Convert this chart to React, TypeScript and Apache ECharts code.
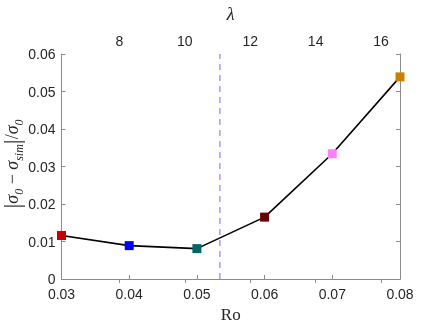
import React, { useEffect, useRef } from "react";
import * as echarts from "echarts";

const roValues = [0.03, 0.04, 0.05, 0.06, 0.07, 0.08];
const errValues = [0.0116, 0.0089, 0.0081, 0.0165, 0.0334, 0.0539];
const pointColors = ["#cc0000", "#0000ff", "#006666", "#660000", "#ff80ff", "#cc8000"];
const lambdaTicks = [8, 10, 12, 14, 16];
const lambdaRange = [6.23, 16.58];
const dashedRo = 0.0534;
const yRange = [0, 0.06];

export default function App() {
  const ref = useRef<HTMLDivElement>(null);
  useEffect(() => {
    const chart = echarts.init(ref.current!, null, { renderer: "svg" });
    const axisGray = "#8c8c8c";
    const labelColor = "#262626";
    const sans = "Liberation Sans";
    const serif = "Liberation Serif";
    chart.setOption({
      animation: false,
      grid: { left: 61.5, right: 37, top: 44, bottom: 43, containLabel: false },
      xAxis: [
        {
          type: "value",
          position: "bottom",
          min: 0.03,
          max: 0.08,
          interval: 0.01,
          name: "Ro",
          nameLocation: "middle",
          nameGap: 27,
          nameTextStyle: { fontFamily: serif, fontSize: 17, color: labelColor },
          axisLine: { show: true, lineStyle: { color: axisGray } },
          axisTick: { show: true, inside: true, length: 4, lineStyle: { color: axisGray } },
          axisLabel: { margin: 8, fontFamily: sans, fontSize: 14, lineHeight: 14, color: labelColor, formatter: (v: number) => v.toFixed(2) },
          splitLine: { show: false },
        },
        {
          type: "value",
          position: "top",
          min: lambdaRange[0],
          max: lambdaRange[1],
          name: "λ",
          nameLocation: "middle",
          nameGap: 31,
          nameTextStyle: { fontFamily: serif, fontStyle: "italic", fontSize: 18, color: labelColor },
          axisLine: { show: true, lineStyle: { color: axisGray } },
          axisTick: { show: true, inside: true, length: 4, customValues: lambdaTicks, lineStyle: { color: axisGray } },
          axisLabel: { margin: 6, fontFamily: sans, fontSize: 14, color: labelColor, customValues: lambdaTicks, formatter: (v: number) => String(v) },
          splitLine: { show: false },
        },
      ],
      yAxis: [
        {
          type: "value",
          position: "left",
          min: yRange[0],
          max: yRange[1],
          interval: 0.01,
          axisLine: { show: true, lineStyle: { color: axisGray } },
          axisTick: { show: true, inside: true, length: 4, lineStyle: { color: axisGray } },
          axisLabel: { margin: 6, fontFamily: sans, fontSize: 14, lineHeight: 14, color: labelColor, formatter: (v: number) => (v === 0 ? "0" : v.toFixed(2)) },
          splitLine: { show: false },
        },
        {
          type: "value",
          position: "right",
          min: yRange[0],
          max: yRange[1],
          interval: 0.01,
          axisLine: { show: true, lineStyle: { color: axisGray } },
          axisTick: { show: true, inside: true, length: 4, lineStyle: { color: axisGray } },
          axisLabel: { show: false },
          splitLine: { show: false },
        },
      ],
      graphic: [
        {
          type: "text",
          x: 12,
          y: 164,
          rotation: Math.PI / 2,
          style: {
            text: "{b||}{i|σ}{s|0}{n| − }{i|σ}{s|sim}{b||}{n|/}{i|σ}{s|0}",
            align: "center",
            verticalAlign: "middle",
            fill: labelColor,
            rich: {
              b: { fontFamily: serif, fontSize: 24, lineHeight: 26, verticalAlign: "middle", fill: labelColor },
              i: { fontFamily: serif, fontStyle: "italic", fontSize: 18, lineHeight: 26, verticalAlign: "middle", fill: labelColor },
              n: { fontFamily: serif, fontSize: 18, lineHeight: 26, verticalAlign: "middle", fill: labelColor },
              s: { fontFamily: serif, fontStyle: "italic", fontSize: 12, lineHeight: 26, verticalAlign: "bottom", fill: labelColor },
            },
          },
        },
      ],
      series: [
        {
          type: "line",
          xAxisIndex: 0,
          yAxisIndex: 0,
          data: [
            [dashedRo, yRange[0]],
            [dashedRo, yRange[1]],
          ],
          symbol: "none",
          lineStyle: { color: "#6a6aff", type: [6, 5], width: 1 },
          silent: true,
          z: 2,
        },
        {
          type: "line",
          xAxisIndex: 0,
          yAxisIndex: 0,
          data: roValues.map((r, i) => ({
            value: [r, errValues[i]],
            itemStyle: { color: pointColors[i], borderWidth: 0 },
          })),
          symbol: "rect",
          symbolSize: 9,
          lineStyle: { color: "#000000", width: 1.6 },
          z: 3,
        },
      ],
    });
    return () => chart.dispose();
  }, []);
  return <div ref={ref} style={{ position: "fixed", left: 0, top: 0, width: 437, height: 328 }} />;
}
